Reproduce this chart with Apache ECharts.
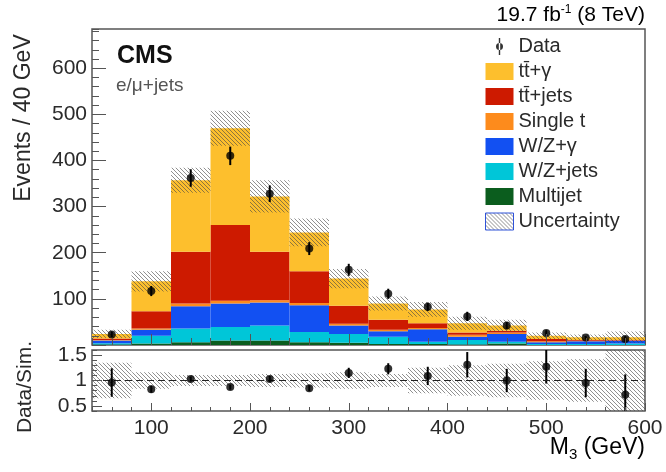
<!DOCTYPE html>
<html>
<head>
<meta charset="utf-8">
<script src="https://cdn.jsdelivr.net/npm/echarts@6.0.0/dist/echarts.min.js"></script>
<style>
  html, body { margin: 0; padding: 0; background: #fff; }
  #chart { width: 666px; height: 472px; }
</style>
</head>
<body>
<div id="chart"></div>
<script>
// bins of M3 (GeV), 40 GeV wide, from 40 to 600
const binCenters = ['60', '100', '140', '180', '220', '260', '300', '340', '380', '420', '460', '500', '540', '580'];

// simulated contributions, events per bin (stack order bottom -> top)
const multijet  = [1, 3, 6, 10, 10, 6, 5, 2, 2, 1, 3, 0, 0, 0];
const wzJets    = [3, 17, 30, 29, 32, 22, 19, 16, 5, 10, 4, 2, 2, 3];
const wzGamma   = [6, 13, 48, 51, 50, 58, 18, 12, 27, 7, 17, 4, 6, 6];
const singleTop = [1, 3, 6, 6, 5, 5, 4, 3, 3, 4, 3, 2, 1, 1];
const ttJets    = [3, 37, 112, 164, 105, 69, 39, 22, 10, 5, 4, 5, 2, 1];
const ttGamma   = [10, 65, 155, 210, 120, 84, 59, 35, 30, 20, 11, 7, 6, 6];
const mcUnc     = [9, 22, 27, 38, 35, 30, 21, 15, 16, 14, 13, 7, 6, 12];

// observed data
const dataVals = [23, 117, 362, 410, 328, 209, 163, 111, 83, 62, 42, 26, 16, 13];
const dataErr  = [6, 11, 19, 20, 18, 14, 13, 11, 9, 10, 8, 6, 4, 6];

// ratio panel
const ratioVals = [0.96, 0.83, 1.03, 0.87, 1.03, 0.85, 1.15, 1.23, 1.09, 1.31, 1.0, 1.27, 0.95, 0.72];
const ratioErr  = [0.28, 0.07, 0.05, 0.05, 0.06, 0.06, 0.1, 0.11, 0.18, 0.25, 0.23, 0.33, 0.28, 0.4];
const ratioUnc  = [0.35, 0.16, 0.11, 0.11, 0.13, 0.14, 0.16, 0.13, 0.25, 0.3, 0.33, 0.38, 0.42, 0.7];

// tick labels
const xTickLabels = [100, 200, 300, 400, 500, 600];
const yTickLabels = [100, 200, 300, 400, 500, 600];
const yMajorTicks = [0, 100, 200, 300, 400, 500, 600];
const rTickLabels = [0.5, 1, 1.5];

const FONT = '"Liberation Sans", Arial, sans-serif';
const TXT = '#2a2a2a';
const AX = '#555';

function hatch(col) {
  const c = document.createElement('canvas');
  c.width = 4; c.height = 4;
  const g = c.getContext('2d');
  g.strokeStyle = col;
  g.lineWidth = 1;
  g.beginPath();
  g.moveTo(-1, -1); g.lineTo(5, 5);
  g.moveTo(3, -1); g.lineTo(5, 1);
  g.moveTo(-1, 3); g.lineTo(1, 5);
  g.stroke();
  return {image: c, repeat: 'repeat'};
}
const hatchFill = hatch('rgba(70,70,70,0.6)');

const total = binCenters.map((_, i) =>
  multijet[i] + wzJets[i] + wzGamma[i] + singleTop[i] + ttJets[i] + ttGamma[i]);

const bandMain = total.map((t, i) => [i, t - mcUnc[i], t + mcUnc[i]]);
const bandRatio = ratioUnc.map((u, i) => [i, 1 - u, 1 + u]);
const errMain = dataVals.map((v, i) => [i, v - dataErr[i], v + dataErr[i]]);
const errRatio = ratioVals.map((v, i) => [i, v - ratioErr[i], v + ratioErr[i]]);

function clipRect(r, params) {
  return echarts.graphic.clipRectByRect(r, {
    x: params.coordSys.x, y: params.coordSys.y,
    width: params.coordSys.width, height: params.coordSys.height
  });
}

function bandItem(params, api) {
  const i = api.value(0);
  const top = api.coord([i, api.value(2)]);
  const bot = api.coord([i, api.value(1)]);
  const w = api.size([1, 0])[0];
  const shape = clipRect({x: top[0] - w / 2, y: top[1], width: w, height: bot[1] - top[1]}, params);
  return shape && {type: 'rect', shape: shape, style: {fill: hatchFill}};
}

function errItem(params, api) {
  const i = api.value(0);
  const top = api.coord([i, api.value(2)]);
  const bot = api.coord([i, api.value(1)]);
  const yTop = Math.max(top[1], params.coordSys.y);
  const yBot = Math.min(bot[1], params.coordSys.y + params.coordSys.height);
  return {
    type: 'line',
    shape: {x1: top[0], y1: yTop, x2: top[0], y2: yBot},
    style: {stroke: '#000', lineWidth: 2}
  };
}

function stackBar(name, values, color) {
  return {
    name: name, type: 'bar', stack: 'mc', data: values,
    xAxisIndex: 0, yAxisIndex: 0,
    barCategoryGap: '0%', barGap: '-100%',
    itemStyle: {color: color},
    emphasis: {disabled: true}
  };
}

const tickStyle = {color: AX, width: 1};
const labelStyle = {color: TXT, fontSize: 21, fontFamily: FONT};

const chart = echarts.init(document.getElementById('chart'));
chart.setOption({
  animation: false,
  backgroundColor: '#fff',
  grid: [
    {left: 92, top: 29, width: 553, height: 316, show: true, borderColor: AX, borderWidth: 1.5, backgroundColor: 'transparent'},
    {left: 92, top: 350, width: 553, height: 61, show: true, borderColor: AX, borderWidth: 1.5, backgroundColor: 'transparent'}
  ],
  xAxis: [
    {type: 'category', gridIndex: 0, data: binCenters, show: false},
    {type: 'value', gridIndex: 0, position: 'bottom', min: 40, max: 600, z: 10,
      axisLine: {show: false}, splitLine: {show: false}, axisLabel: {show: false},
      axisTick: {inside: true, length: 11, customValues: xTickLabels, lineStyle: tickStyle}},
    {type: 'value', gridIndex: 0, position: 'bottom', min: 40, max: 600, interval: 20, z: 10,
      axisLine: {show: false}, splitLine: {show: false}, axisLabel: {show: false},
      axisTick: {inside: true, length: 7, lineStyle: tickStyle}},
    {type: 'category', gridIndex: 1, data: binCenters, show: false},
    {type: 'value', gridIndex: 1, position: 'bottom', min: 40, max: 600, z: 10,
      axisLine: {show: false}, splitLine: {show: false},
      axisLabel: Object.assign({customValues: xTickLabels, margin: 7}, labelStyle),
      axisTick: {inside: true, length: 8, customValues: xTickLabels, lineStyle: tickStyle}},
    {type: 'value', gridIndex: 1, position: 'bottom', min: 40, max: 600, interval: 20, z: 10,
      axisLine: {show: false}, splitLine: {show: false}, axisLabel: {show: false},
      axisTick: {inside: true, length: 4, lineStyle: tickStyle}}
  ],
  yAxis: [
    {type: 'value', gridIndex: 0, position: 'left', min: 0, max: 685, z: 10,
      axisLine: {show: false}, splitLine: {show: false},
      axisLabel: Object.assign({customValues: yTickLabels, margin: 5}, labelStyle),
      axisTick: {inside: true, length: 14, customValues: yMajorTicks, lineStyle: tickStyle}},
    {type: 'value', gridIndex: 0, position: 'left', min: 0, max: 685, interval: 20, z: 10,
      axisLine: {show: false}, splitLine: {show: false}, axisLabel: {show: false},
      axisTick: {inside: true, length: 7, lineStyle: tickStyle}},
    {type: 'value', gridIndex: 1, position: 'left', min: 0.4, max: 1.6, z: 10,
      axisLine: {show: false}, splitLine: {show: false},
      axisLabel: Object.assign({customValues: rTickLabels, margin: 5}, labelStyle),
      axisTick: {inside: true, length: 10, customValues: rTickLabels, lineStyle: tickStyle}},
    {type: 'value', gridIndex: 1, position: 'left', min: 0.4, max: 1.6, interval: 0.1, z: 10,
      axisLine: {show: false}, splitLine: {show: false}, axisLabel: {show: false},
      axisTick: {inside: true, length: 5, lineStyle: tickStyle}}
  ],
  legend: {
    orient: 'vertical', left: 485, top: 36.5, padding: 0,
    itemWidth: 28, itemHeight: 17, itemGap: 5,
    selectedMode: false,
    textStyle: {fontFamily: FONT, fontSize: 20, color: TXT, lineHeight: 17},
    data: [
      {name: 'Data', icon: 'path://M3.3,0h1.4v17h-1.4z M0.5,8.5a3.5,3.5 0 1,0 7,0a3.5,3.5 0 1,0 -7,0z', itemStyle: {color: '#000'}},
      {name: 'tt\u0304+\u03b3', icon: 'rect'},
      {name: 'tt\u0304+jets', icon: 'rect'},
      {name: 'Single t', icon: 'rect'},
      {name: 'W/Z+\u03b3', icon: 'rect'},
      {name: 'W/Z+jets', icon: 'rect'},
      {name: 'Multijet', icon: 'rect'},
      {name: 'Uncertainty', icon: 'rect', itemStyle: {color: hatchFill, borderColor: '#2f52d8', borderWidth: 1}}
    ]
  },
  graphic: [
    {type: 'text', x: 117, y: 56, style: {text: 'CMS', font: 'bold 25px ' + FONT, fill: '#111', verticalAlign: 'middle'}},
    {type: 'text', x: 116, y: 86, style: {text: 'e/\u03bc+jets', font: '19px ' + FONT, fill: '#555', verticalAlign: 'middle'}},
    {type: 'text', x: 645, y: 15, style: {
      text: '{a|19.7 fb}{s|-1}{a| (8 TeV)}', align: 'right', verticalAlign: 'middle',
      rich: {
        a: {fontFamily: FONT, fontSize: 21, color: TXT, lineHeight: 22, verticalAlign: 'bottom'},
        s: {fontFamily: FONT, fontSize: 12, color: TXT, lineHeight: 12, verticalAlign: 'top'}
      }}},
    {type: 'text', x: 24, y: 118, rotation: Math.PI / 2, style: {
      text: 'Events / 40 GeV', font: '23px ' + FONT, fill: TXT, align: 'center', verticalAlign: 'middle'}},
    {type: 'text', x: 25, y: 387, rotation: Math.PI / 2, style: {
      text: 'Data/Sim.', font: '21px ' + FONT, fill: TXT, align: 'center', verticalAlign: 'middle'}},
    {type: 'text', x: 645, y: 449, style: {
      text: '{a|M}{b|3}{a| (GeV)}', align: 'right', verticalAlign: 'middle',
      rich: {
        a: {fontFamily: FONT, fontSize: 23, color: TXT, lineHeight: 26, verticalAlign: 'top'},
        b: {fontFamily: FONT, fontSize: 15, color: TXT, lineHeight: 15, verticalAlign: 'bottom'}
      }}}
  ],
  series: [
    stackBar('Multijet', multijet, '#0b5d1e'),
    stackBar('W/Z+jets', wzJets, '#00c6d8'),
    stackBar('W/Z+\u03b3', wzGamma, '#1250f2'),
    stackBar('Single t', singleTop, '#fd8b1c'),
    stackBar('tt\u0304+jets', ttJets, '#cd1a00'),
    stackBar('tt\u0304+\u03b3', ttGamma, '#fdbf2d'),
    {name: 'Uncertainty', type: 'custom', xAxisIndex: 0, yAxisIndex: 0, data: bandMain,
      encode: {x: 0, y: [1, 2]}, renderItem: bandItem, z: 3,
      itemStyle: {color: hatchFill, borderColor: '#2f52d8'}},
    {name: 'dataErr', type: 'custom', xAxisIndex: 0, yAxisIndex: 0, data: errMain,
      encode: {x: 0, y: [1, 2]}, renderItem: errItem, z: 4},
    {name: 'Data', type: 'scatter', xAxisIndex: 0, yAxisIndex: 0,
      data: dataVals.map((v, i) => [i, v]), symbol: 'circle', symbolSize: 8,
      itemStyle: {color: '#000'}, z: 5},
    {name: 'ratioBand', type: 'custom', xAxisIndex: 3, yAxisIndex: 2, data: bandRatio,
      encode: {x: 0, y: [1, 2]}, renderItem: bandItem, z: 3,
      markLine: {silent: true, symbol: ['none', 'none'], label: {show: false},
        lineStyle: {color: '#222', width: 1.2, type: [7, 4]}, data: [{yAxis: 1}]}},
    {name: 'ratioErr', type: 'custom', xAxisIndex: 3, yAxisIndex: 2, data: errRatio,
      encode: {x: 0, y: [1, 2]}, renderItem: errItem, z: 4},
    {name: 'ratio', type: 'scatter', xAxisIndex: 3, yAxisIndex: 2,
      data: ratioVals.map((v, i) => [i, v]), symbol: 'circle', symbolSize: 8,
      itemStyle: {color: '#000'}, z: 5}
  ]
});
</script>
</body>
</html>
